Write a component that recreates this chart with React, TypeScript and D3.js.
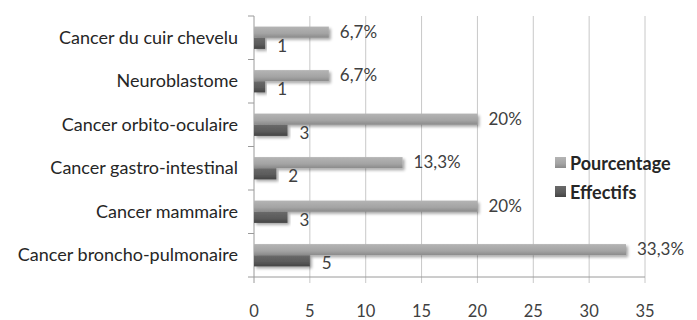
import React, { useEffect } from "react";
import * as d3 from "d3";

const categories = [
  "Cancer du cuir chevelu",
  "Neuroblastome",
  "Cancer orbito-oculaire",
  "Cancer gastro-intestinal",
  "Cancer mammaire",
  "Cancer broncho-pulmonaire",
];
const pourcentage = [6.7, 6.7, 20, 13.3, 20, 33.3];
const pourcentageLabels = ["6,7%", "6,7%", "20%", "13,3%", "20%", "33,3%"];
const effectifs = [1, 1, 3, 2, 3, 5];
const xTicks = [0, 5, 10, 15, 20, 25, 30, 35];
const seriesNames = ["Pourcentage", "Effectifs"];

const W = 697;
const H = 320;
const FONT = "Lato, 'Open Sans', sans-serif";

export default function App() {
  useEffect(() => {
    document.body.style.margin = "0";
  }, []);

  const x = d3.scaleLinear().domain([0, 35]).range([254, 645]);
  const y = d3.scaleBand().domain(categories).range([16, 277]);
  const inner = d3.scaleBand().domain(seriesNames).range([0, y.bandwidth()]).paddingOuter(0.95).paddingInner(0);

  const axisY = y.range()[1];

  return (
    <svg width={W} height={H} style={{ display: "block", fontFamily: FONT }}>
      <defs>
        <linearGradient id="gLight" x1="0" y1="0" x2="0" y2="1">
          <stop offset="0" stopColor="#b4b4b4" />
          <stop offset="0.6" stopColor="#a4a4a4" />
          <stop offset="1" stopColor="#8a8a8a" />
        </linearGradient>
        <linearGradient id="gDark" x1="0" y1="0" x2="0" y2="1">
          <stop offset="0" stopColor="#6a6a6a" />
          <stop offset="0.6" stopColor="#5a5a5a" />
          <stop offset="1" stopColor="#444444" />
        </linearGradient>
        <filter id="shadow" x="-5%" y="-40%" width="115%" height="200%">
          <feGaussianBlur in="SourceAlpha" stdDeviation="1.5" />
          <feOffset dx="1.5" dy="1.5" result="b" />
          <feComponentTransfer>
            <feFuncA type="linear" slope="0.35" />
          </feComponentTransfer>
          <feMerge>
            <feMergeNode />
            <feMergeNode in="SourceGraphic" />
          </feMerge>
        </filter>
      </defs>

      {/* grid */}
      {xTicks.slice(1).map((t) => (
        <line key={"g" + t} x1={x(t)} x2={x(t)} y1={y.range()[0]} y2={axisY + 6} stroke="#c8c8c8" strokeWidth={1} />
      ))}

      {/* axes */}
      <line x1={x(0)} x2={x(0)} y1={y.range()[0]} y2={axisY + 6} stroke="#9a9a9a" />
      <line x1={x(0)} x2={x(35)} y1={axisY} y2={axisY} stroke="#9a9a9a" />
      {d3.range(categories.length + 1).map((i) => {
        const yy = y.range()[0] + i * y.step();
        return <line key={"t" + i} x1={x(0) - 6} x2={x(0)} y1={yy} y2={yy} stroke="#9a9a9a" />;
      })}

      {/* x tick labels */}
      {xTicks.map((t) => (
        <text key={"x" + t} x={x(t)} y={311} textAnchor="middle" dominantBaseline="central" fontSize={16.5} fill="#404040">
          {t}
        </text>
      ))}

      {/* category labels */}
      {categories.map((c) => (
        <text key={c} x={238} y={(y(c) as number) + y.bandwidth() / 2 - 1} textAnchor="end" dominantBaseline="central" fontSize={18} fill="#262626">
          {c}
        </text>
      ))}

      {/* bars */}
      {categories.map((c, i) => {
        const by = y(c) as number;
        const y1 = by + (inner("Pourcentage") as number);
        const y2 = by + (inner("Effectifs") as number);
        const bh = inner.bandwidth();
        return (
          <g key={"b" + c}>
            <rect x={x(0)} y={y1} width={x(pourcentage[i]) - x(0)} height={bh} fill="url(#gLight)" filter="url(#shadow)" />
            <rect x={x(0)} y={y2} width={x(effectifs[i]) - x(0)} height={bh} fill="url(#gDark)" filter="url(#shadow)" />
            <text x={x(pourcentage[i]) + 11} y={y1 + bh / 2 - 1} dominantBaseline="central" fontSize={17} fill="#404040">
              {pourcentageLabels[i]}
            </text>
            <text x={x(effectifs[i]) + 12} y={y2 + bh / 2 + 2} dominantBaseline="central" fontSize={17} fill="#404040">
              {effectifs[i]}
            </text>
          </g>
        );
      })}

      {/* legend */}
      {seriesNames.map((s, i) => (
        <g key={"l" + s} transform={`translate(555, ${157 + i * 29})`}>
          <rect width={11} height={11} fill={i === 0 ? "url(#gLight)" : "url(#gDark)"} />
          <text x={15} y={6} dominantBaseline="central" fontSize={18} fontWeight="bold" fill="#262626">
            {s}
          </text>
        </g>
      ))}
    </svg>
  );
}
